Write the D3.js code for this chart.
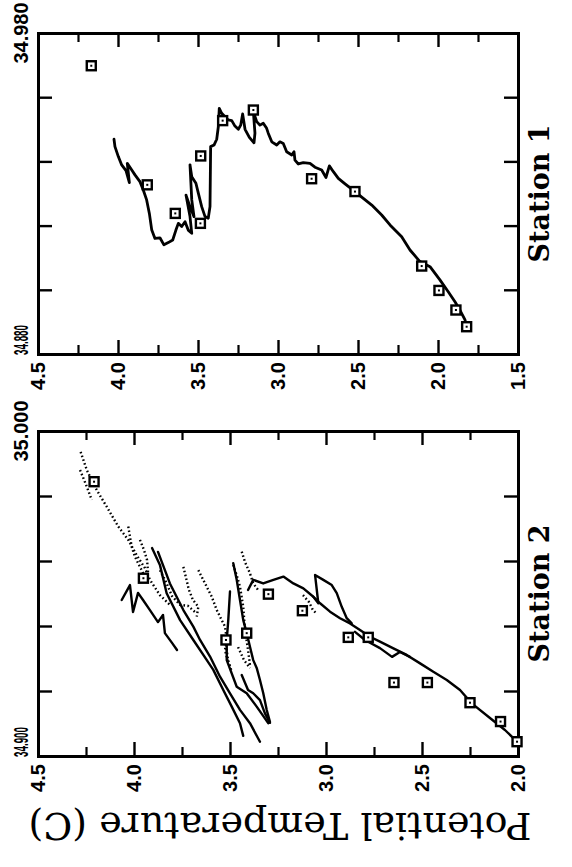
<!DOCTYPE html>
<html><head><meta charset="utf-8">
<script src="https://cdn.jsdelivr.net/npm/d3@7"></script>
<style>html,body{margin:0;padding:0;background:#fff;} svg{display:block;}</style>
</head><body><svg id="c" width="572" height="867"></svg>
<script>
// ---------- DATA (potential temperature °C, salinity) ----------
const tempTicks1 = [4.5, 4.0, 3.5, 3.0, 2.5, 2.0, 1.5];
const tempLabels1 = ["4.5", "4.0", "3.5", "3.0", "2.5", "2.0", "1.5"];
const tempTicks2 = [4.5, 4.0, 3.5, 3.0, 2.5, 2.0];
const tempLabels2 = ["4.5", "4.0", "3.5", "3.0", "2.5", "2.0"];
const salTicks1 = [34.90, 34.92, 34.94, 34.96];
const salTicks2 = [34.92, 34.94, 34.96, 34.98];
const salLabels1 = ["34.880", "34.980"];
const salLabels2 = ["34.900", "35.000"];

// Station 1 CTD profile
const st1Profile = [[4.025,34.9469],[4.019,34.9446],[3.998,34.9415],[3.977,34.9389],[3.950,34.9371],[3.929,34.9334],[3.942,34.9394],[3.914,34.9373],[3.894,34.9358],[3.863,34.9337],[3.842,34.9311],[3.821,34.9280],[3.804,34.9238],[3.789,34.9186],[3.769,34.9160],[3.738,34.9162],[3.713,34.9140],[3.686,34.9147],[3.658,34.9155],[3.638,34.9186],[3.623,34.9207],[3.602,34.9197],[3.581,34.9212],[3.561,34.9186],[3.539,34.9176],[3.550,34.9228],[3.575,34.9295],[3.550,34.9259],[3.525,34.9228],[3.539,34.9280],[3.550,34.9389],[3.539,34.9352],[3.513,34.9332],[3.498,34.9301],[3.477,34.9259],[3.456,34.9228],[3.436,34.9223],[3.425,34.9259],[3.421,34.9446],[3.400,34.9451],[3.383,34.9469],[3.373,34.9508],[3.367,34.9565],[3.352,34.9550],[3.331,34.9539],[3.311,34.9529],[3.289,34.9527],[3.269,34.9510],[3.248,34.9500],[3.233,34.9513],[3.221,34.9548],[3.206,34.9500],[3.179,34.9475],[3.150,34.9458],[3.144,34.9488],[3.154,34.9555],[3.133,34.9524],[3.113,34.9513],[3.092,34.9519],[3.071,34.9503],[3.061,34.9488],[3.039,34.9461],[3.008,34.9451],[2.988,34.9461],[2.967,34.9456],[2.946,34.9430],[2.914,34.9420],[2.900,34.9430],[2.894,34.9404],[2.873,34.9392],[2.842,34.9396],[2.800,34.9394],[2.769,34.9382],[2.727,34.9373],[2.700,34.9350],[2.679,34.9386],[2.654,34.9368],[2.623,34.9347],[2.581,34.9330],[2.519,34.9306],[2.467,34.9285],[2.414,34.9264],[2.352,34.9233],[2.300,34.9202],[2.227,34.9165],[2.175,34.9124],[2.113,34.9088],[2.050,34.9072],[1.988,34.9031],[1.936,34.8994],[1.894,34.8963],[1.863,34.8937],[1.831,34.8906],[1.821,34.8885]];
// Station 1 bottle samples
const st1Bottles = [[4.167,34.9698],[3.817,34.9327],[3.642,34.9238],[3.485,34.9207],[3.483,34.9417],[3.346,34.9527],[3.154,34.9560],[2.790,34.9346],[2.519,34.9306],[2.102,34.9074],[1.994,34.8998],[1.888,34.8937],[1.821,34.8885]];

// Station 2 solid CTD traces
const st2Zigzag = [[4.064,34.9480],[4.021,34.9526],[4.005,34.9443],[3.979,34.9502],[3.953,34.9480],[3.917,34.9449],[3.875,34.9412],[3.849,34.9434],[3.839,34.9378],[3.802,34.9348],[3.776,34.9326]];
const st2SolidA = [[3.906,34.9640],[3.865,34.9588],[3.830,34.9501],[3.760,34.9418],[3.691,34.9357],[3.639,34.9311],[3.587,34.9265],[3.535,34.9203],[3.491,34.9152],[3.448,34.9101],[3.431,34.9062]];
const st2SolidB = [[3.875,34.9628],[3.839,34.9572],[3.813,34.9531],[3.743,34.9449],[3.691,34.9398],[3.656,34.9357],[3.604,34.9306],[3.552,34.9244],[3.500,34.9193],[3.448,34.9142],[3.396,34.9101],[3.344,34.9044]];
const st2SolidC = [[3.500,34.9506],[3.509,34.9418],[3.517,34.9357],[3.517,34.9295],[3.465,34.9213],[3.413,34.9193],[3.361,34.9152],[3.301,34.9101]];
const st2SolidD = [[3.483,34.9593],[3.465,34.9542],[3.448,34.9480],[3.431,34.9418],[3.413,34.9378],[3.396,34.9336],[3.379,34.9295],[3.361,34.9271],[3.344,34.9234],[3.327,34.9194],[3.309,34.9142],[3.292,34.9105]];
const st2SolidE = [[3.439,34.9249],[3.406,34.9203],[3.379,34.9193],[3.344,34.9172],[3.318,34.9131],[3.292,34.9102]];
const st2Right = [[3.406,34.9511],[3.379,34.9542],[3.327,34.9531],[3.274,34.9542],[3.222,34.9552],[3.170,34.9531],[3.118,34.9516],[3.066,34.9490],[3.031,34.9470],[2.979,34.9444],[2.927,34.9424],[2.875,34.9408],[2.823,34.9388],[2.771,34.9367],[2.719,34.9352],[2.649,34.9331],[2.580,34.9311],[2.510,34.9285],[2.441,34.9259],[2.371,34.9234],[2.302,34.9203],[2.241,34.9162],[2.146,34.9117],[2.068,34.9080],[2.005,34.9044]];
const st2Loop = [[3.066,34.9490],[3.040,34.9470],[3.057,34.9557],[3.014,34.9542],[2.970,34.9526],[2.944,34.9501],[2.918,34.9459],[2.892,34.9424],[2.866,34.9408]];
const st2Wiggle = [[2.849,34.9382],[2.797,34.9357],[2.719,34.9332],[2.656,34.9305],[2.615,34.9320],[2.563,34.9305]];

// Station 2 dotted CTD traces
const st2Dot1 = [[4.278,34.9936],[4.246,34.9880],[4.194,34.9818],[4.142,34.9767],[4.082,34.9706],[4.030,34.9665],[3.986,34.9618],[3.943,34.9578],[3.917,34.9542],[3.865,34.9495],[3.813,34.9465]];
const st2Dot2 = [[4.281,34.9880],[4.246,34.9829],[4.220,34.9788]];
const st2Dot3 = [[4.030,34.9706],[4.012,34.9644],[3.995,34.9613],[3.969,34.9582],[3.952,34.9562]];
const st2Dot4 = [[3.743,34.9582],[3.729,34.9548],[3.714,34.9511],[3.693,34.9480],[3.665,34.9459],[3.673,34.9429]];
const st2Dot5 = [[3.665,34.9572],[3.630,34.9531],[3.595,34.9490],[3.569,34.9449],[3.543,34.9418],[3.526,34.9398],[3.518,34.9363],[3.526,34.9326],[3.510,34.9289]];
const st2Dot6 = [[3.439,34.9629],[3.422,34.9597],[3.396,34.9562],[3.379,34.9531],[3.354,34.9511]];
const st2Dot7 = [[3.483,34.9588],[3.464,34.9554],[3.448,34.9521],[3.431,34.9459],[3.422,34.9388],[3.406,34.9326],[3.396,34.9280]];
const st2Dot8 = [[3.865,34.9572],[3.833,34.9535],[3.802,34.9492],[3.760,34.9465],[3.719,34.9462],[3.682,34.9443]];
const st2Dot9 = [[3.120,34.9495],[3.089,34.9474],[3.068,34.9449],[3.047,34.9437]];
const st2Dot10 = [[3.969,34.9665],[3.948,34.9634],[3.932,34.9603],[3.927,34.9566]];
const st2Dot11 = [[3.521,34.9342],[3.510,34.9295],[3.490,34.9258]];
const st2Dot12 = [[3.458,34.9335],[3.427,34.9295],[3.396,34.9271]];
// Station 2 bottle samples
const st2Bottles = [[4.208,34.9844],[3.951,34.9547],[3.521,34.9357],[3.413,34.9378],[3.300,34.9498],[3.123,34.9447],[2.884,34.9365],[2.780,34.9365],[2.646,34.9226],[2.472,34.9226],[2.250,34.9164],[2.091,34.9106],[2.005,34.9044]];

// ---------- DRAWING ----------
const svg = d3.select("#c");
svg.append("rect").attr("width",572).attr("height",867).attr("fill","#fff");
const tickFont = "'Liberation Sans', Arial, Helvetica, sans-serif";

function panel(cfg){
  const g = svg.append("g");
  const xs = d3.scaleLinear().domain(cfg.xDomain).range([38,518]);
  const ys = d3.scaleLinear().domain(cfg.yDomain).range([cfg.y1,cfg.y0]);
  const minor = d3.range(cfg.xDomain[0]-0.25, cfg.xDomain[1], -0.5);

  function styleAxis(sel, w){
    sel.selectAll(".tick line").attr("stroke","#000").attr("stroke-width",w);
    sel.selectAll(".tick text").remove();
  }
  const mk = [
    [d3.axisTop(xs).tickValues(cfg.xTicks), `translate(0,${cfg.y0})`],
    [d3.axisBottom(xs).tickValues(cfg.xTicks), `translate(0,${cfg.y1})`],
    [d3.axisLeft(ys).tickValues(cfg.yTicks), `translate(38,0)`],
    [d3.axisRight(ys).tickValues(cfg.yTicks), `translate(518,0)`]
  ];
  mk.forEach(([ax, tr])=>{
    const a = g.append("g").attr("transform",tr)
      .call(ax.tickSize(-14).tickSizeOuter(0).tickFormat(""));
    a.select(".domain").attr("stroke","#000").attr("stroke-width",3).attr("stroke-linecap","square");
    styleAxis(a, 2.4);
  });
  [[d3.axisTop(xs), `translate(0,${cfg.y0})`],[d3.axisBottom(xs), `translate(0,${cfg.y1})`]].forEach(([ax,tr])=>{
    const a = g.append("g").attr("transform",tr)
      .call(ax.tickValues(minor).tickSize(-9).tickSizeOuter(0).tickFormat(""));
    a.select(".domain").remove();
    styleAxis(a, 2.2);
  });

  // temperature labels
  cfg.xTicks.forEach((t,i)=>{
    g.append("text")
      .attr("transform",`translate(${xs(t)+7},${cfg.labelY}) rotate(-90)`)
      .attr("text-anchor","middle").attr("font-family",tickFont)
      .attr("font-weight","bold").attr("font-size",20).text(cfg.xLabels[i]);
  });
  // salinity end labels
  g.append("text")
    .attr("transform",`translate(27.5,${ys(cfg.yDomain[1])}) rotate(-90)`)
    .attr("text-anchor","middle").attr("font-family",tickFont)
    .attr("font-weight","bold").attr("font-size",20).text(cfg.yLabels[1]);
  g.append("text")
    .attr("transform",`translate(27.5,${ys(cfg.yDomain[0])+1}) rotate(-90)`)
    .attr("text-anchor","start").attr("font-family",tickFont)
    .attr("font-weight","bold").attr("font-size",20)
    .attr("textLength",30).attr("lengthAdjust","spacingAndGlyphs").text(cfg.yLabels[0]);

  const line = d3.line().x(d=>xs(d[0])).y(d=>ys(d[1]));
  cfg.solid.forEach(s=>{
    g.append("path").attr("d",line(s.data)).attr("fill","none").attr("stroke","#000")
      .attr("stroke-width",s.w).attr("stroke-linejoin","round").attr("stroke-linecap","round");
  });
  cfg.dotted.forEach(d=>{
    g.append("path").attr("d",line(d)).attr("fill","none").attr("stroke","#000")
      .attr("stroke-width",2.4).attr("stroke-dasharray","1.6,2.4");
  });
  cfg.bottles.forEach(b=>{
    const cx = xs(b[0]), cy = ys(b[1]);
    g.append("rect").attr("x",cx-4.5).attr("y",cy-4.5).attr("width",9).attr("height",9)
      .attr("fill","#fff").attr("stroke","#000").attr("stroke-width",2.4);
    g.append("rect").attr("x",cx-1).attr("y",cy-1).attr("width",2).attr("height",2).attr("fill","#000");
  });

  g.append("text")
    .attr("transform",`translate(549,${(cfg.y0+cfg.y1)/2}) rotate(-90)`)
    .attr("text-anchor","middle").attr("font-family","'DejaVu Serif', serif")
    .attr("font-weight","bold").attr("font-size",27).text(cfg.title);
}

panel({xDomain:[4.5,1.5], yDomain:[34.88,34.98], y0:33, y1:354, labelY:376,
  xTicks:tempTicks1, xLabels:tempLabels1, yTicks:salTicks1, yLabels:salLabels1,
  solid:[{data:st1Profile,w:2.8}], dotted:[], bottles:st1Bottles, title:"Station 1"});

panel({xDomain:[4.5,2.0], yDomain:[34.90,35.00], y0:431, y1:756, labelY:778,
  xTicks:tempTicks2, xLabels:tempLabels2, yTicks:salTicks2, yLabels:salLabels2,
  solid:[st2Zigzag,st2SolidA,st2SolidB,st2SolidC,st2SolidD,st2SolidE,st2Right,st2Loop,st2Wiggle].map(d=>({data:d,w:2.4})),
  dotted:[st2Dot1,st2Dot2,st2Dot3,st2Dot4,st2Dot5,st2Dot6,st2Dot7,st2Dot8,st2Dot9,st2Dot10,st2Dot11,st2Dot12],
  bottles:st2Bottles, title:"Station 2"});

svg.append("text")
  .attr("transform","translate(280,813) rotate(180)")
  .attr("text-anchor","middle").attr("font-family","'DejaVu Serif', serif")
  .attr("font-size",38).text("Potential Temperature  (C)");
</script></body></html>
